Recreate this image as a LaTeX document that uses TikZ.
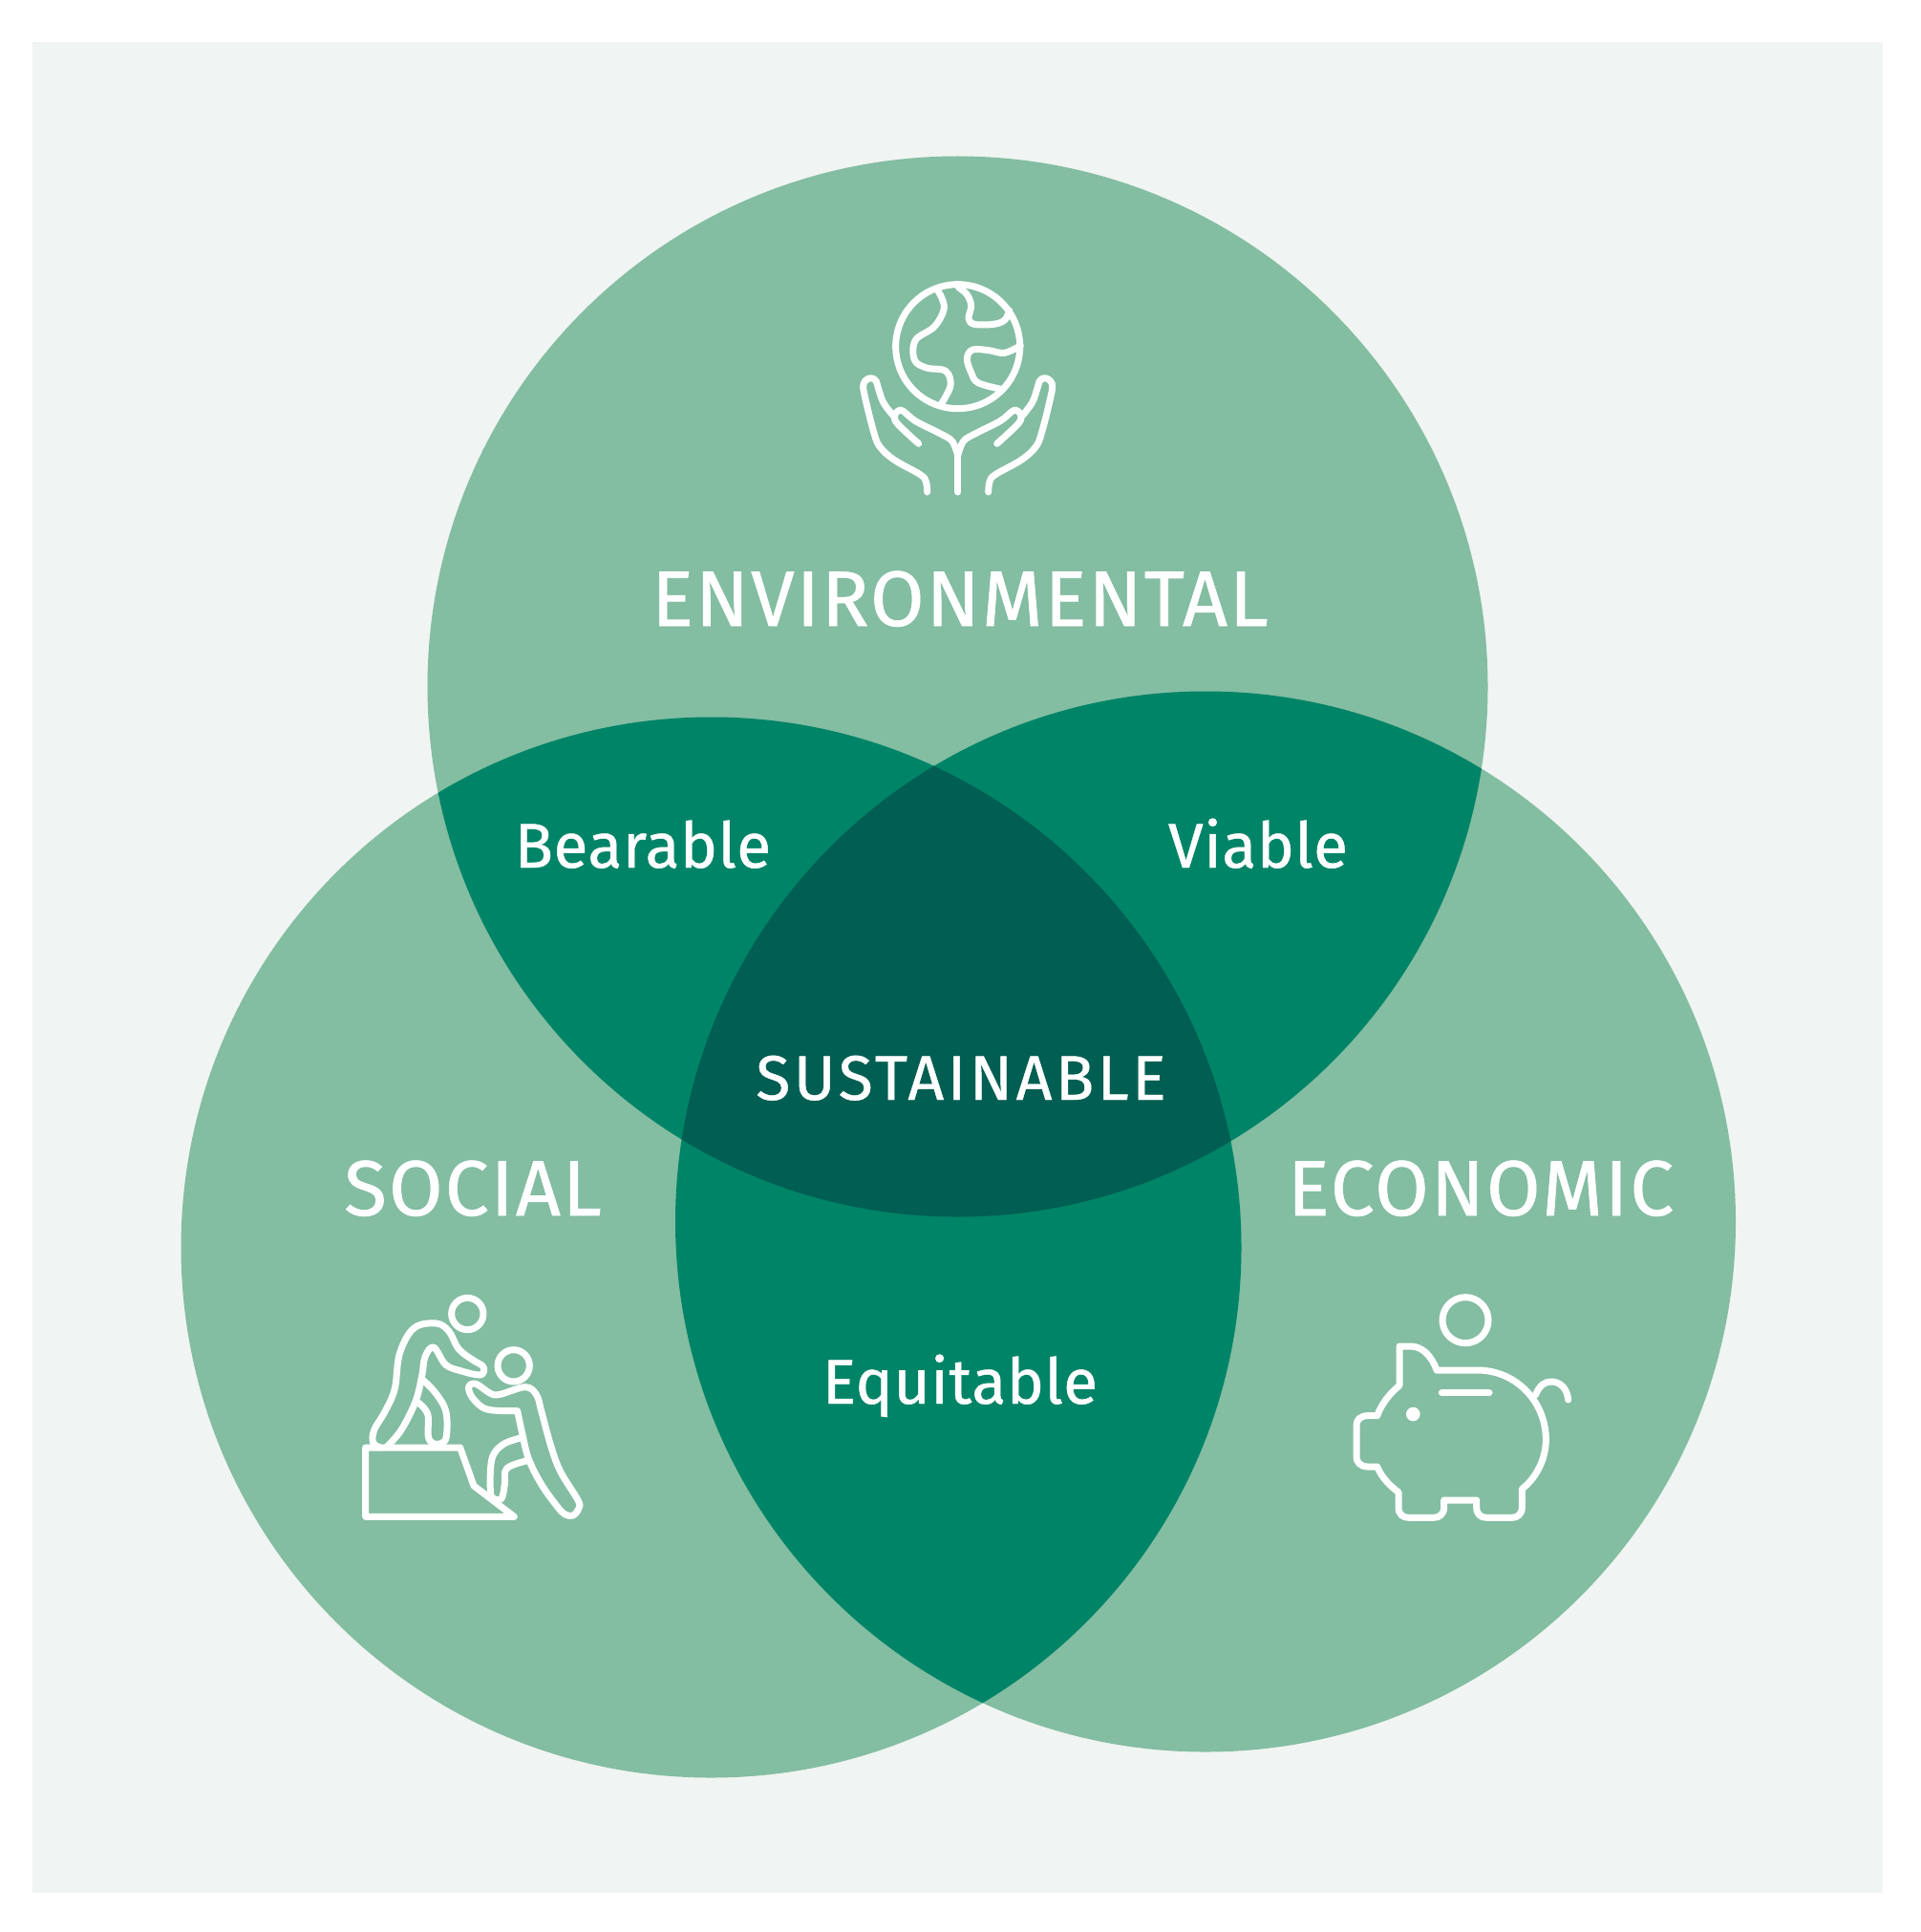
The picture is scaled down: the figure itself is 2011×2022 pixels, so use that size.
\documentclass[tikz,border=0pt]{standalone}
\usepackage{fontspec}
\setmainfont{Fira Sans}[FakeBold=0.7]
\definecolor{bgc}{HTML}{F0F4F2}
\definecolor{lightg}{HTML}{83BDA2}
\definecolor{midg}{HTML}{008467}
\definecolor{darkg}{HTML}{005E52}
\newcommand{\envc}{(1002.5,718.5) circle (555)}
\newcommand{\socc}{(744.5,1305.5) circle (555)}
\newcommand{\ecoc}{(1262,1278.5) circle (555)}
\tikzset{
  bigtxt/.style={text=white,anchor=base,inner sep=0pt,font=\fontsize{41}{41}\selectfont\addfontfeature{LetterSpace=2.5}},
  smalltxt/.style={text=white,anchor=base,inner sep=0pt,font=\fontsize{33}{33}\selectfont\addfontfeature{LetterSpace=0.8}},
  sustxt/.style={text=white,anchor=base,inner sep=0pt,font=\fontsize{33}{33}\selectfont\addfontfeature{LetterSpace=5.5}},
  icon/.style={draw=white,line width=3.5pt,line cap=round,line join=round},
  iconcurve/.style={icon,smooth,tension=0.6},
}
\begin{document}
\begin{tikzpicture}[x=0.5pt,y=-0.5pt]
\useasboundingbox (0,0) rectangle (2011,2022);
\fill[white] (0,0) rectangle (2011,2022);
\fill[bgc] (34,44) rectangle (1971,1981);
% circles
\fill[lightg] \envc;
\fill[lightg] \socc;
\fill[lightg] \ecoc;
\begin{scope}\clip \envc; \fill[midg] \socc; \fill[midg] \ecoc; \end{scope}
\begin{scope}\clip \socc; \fill[midg] \ecoc; \end{scope}
\begin{scope}\clip \envc; \clip \socc; \fill[darkg] \ecoc; \end{scope}
% text
\node[bigtxt] (env) at (1005,655) {ENVIRONMENTAL};
\node[sustxt] (sus) at (1006,1151) {SUSTAINABLE};
\node[bigtxt] (soc) at (495,1272) {SOCIAL};
\node[bigtxt] (eco) at (1550,1272) {ECONOMIC};
\node[smalltxt] (bea) at (673,908) {Bearable};
\node[smalltxt] (via) at (1317,908) {Viable};
\node[smalltxt] (equ) at (1005,1469) {Equitable};
% globe and hands: zoom coordinates
\begin{scope}[shift={(440pt,-140pt)},x=0.16667pt,y=-0.16667pt]
\draw[icon] (368,248) circle (195);
\draw[iconcurve] plot coordinates {(305,72) (325,125) (295,185) (235,228) (232,290) (270,315) (330,325) (345,370) (318,425)};
\draw[iconcurve] plot coordinates {(370,62) (397,85) (410,120) (402,160) (420,178) (480,178) (515,165) (530,135)};
\draw[iconcurve] plot coordinates {(565,245) (515,268) (465,260) (415,258) (397,285) (410,330) (432,362) (505,382)};
\draw[icon] (368,590) -- (368,705);
\foreach \mm in {1,-1}{
\begin{scope}[shift={(368,0)},xscale=\mm,shift={(-368,0)}]
\draw[iconcurve] plot coordinates {(272,705) (268,672) (250,650) (170,605) (125,565) (105,520) (75,400) (72,365) (85,350) (100,348) (112,358) (120,385) (135,425) (165,465)};
\draw[iconcurve] plot coordinates {(245,553) (178,490) (170,465) (178,452) (195,450) (235,482) (310,520) (350,545) (368,590)};
\end{scope}}
\end{scope}
% people
\begin{scope}[shift={(185pt,-670pt)},x=0.16667pt,y=-0.16667pt]
\draw[icon] (358,105) circle (50);
\draw[icon] (503,268) circle (50);
\draw[icon] (505,742) -- (38,742) -- (38,525) -- (335,525) -- (378,645) -- (505,742);
\draw[iconcurve] plot coordinates {(85,525) (62,510) (65,470) (100,410) (130,340) (145,230) (190,150) (260,135) (300,160) (330,215) (375,250) (405,268) (410,285) (395,297) (340,285) (290,265) (252,210) (225,240) (215,300) (195,380) (150,470) (105,522)};
\draw[iconcurve] plot coordinates {(215,310) (255,350) (290,410) (292,490) (275,512) (250,512) (235,490) (235,430) (225,405) (205,385)};
\draw[iconcurve] plot coordinates {(515,410) (420,405) (375,370) (362,335) (385,325) (430,355) (460,358) (540,335) (575,360) (590,410) (620,520) (650,600) (705,690) (708,715) (690,738) (665,735) (640,710) (590,640) (550,560) (530,480) (515,410)};
\draw[iconcurve] plot coordinates {(525,495) (470,515) (435,560) (430,660) (440,685) (465,685) (475,640) (482,590) (550,565)};
\end{scope}
% piggy
\begin{scope}[shift={(700pt,-670pt)},x=0.16667pt,y=-0.16667pt]
\draw[icon] (402,125) circle (72);
\draw[icon] (195,330) -- (195,207) -- (230,207) .. controls (265,207) and (295,235) .. (312,282) -- (440,282) .. controls (560,282) and (655,380) .. (655,500) .. controls (655,560) and (625,620) .. (580,655) -- (580,712) .. controls (580,735) and (565,745) .. (548,745) -- (470,745) .. controls (450,745) and (437,735) .. (437,712) -- (437,690) -- (335,690) -- (335,712) .. controls (335,735) and (320,745) .. (302,745) -- (225,745) .. controls (205,745) and (192,735) .. (192,712) -- (192,665) .. controls (165,645) and (140,620) .. (125,585) -- (95,585) .. controls (72,585) and (60,570) .. (60,555) -- (60,455) .. controls (60,438) and (72,425) .. (95,425) -- (125,425) .. controls (140,385) and (165,355) .. (195,330) -- cycle;
\draw[icon] (328,353) -- (477,353);
\fill[white] (238,420) circle (22);
\draw[icon] (622,360) .. controls (635,330) and (650,318) .. (672,318) .. controls (700,318) and (722,340) .. (725,375);
\end{scope}
\end{tikzpicture}
\end{document}
